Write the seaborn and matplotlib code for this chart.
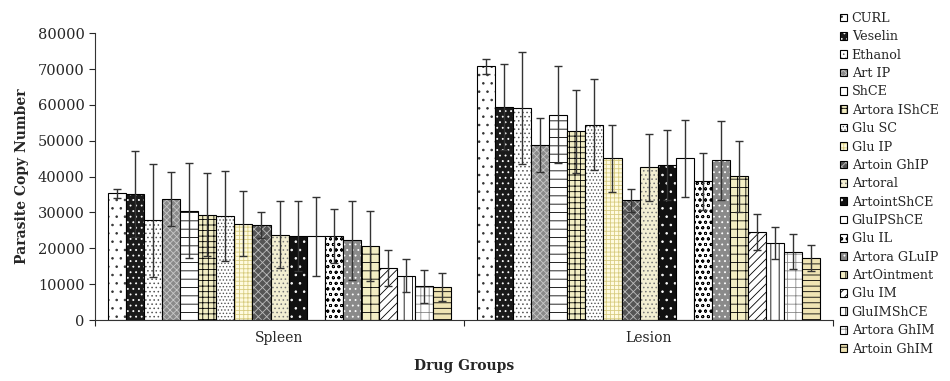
import pandas as pd
import matplotlib.pyplot as plt
import seaborn as sns

# Datos
groups = ["CURL", "Veselin", "Ethanol", "Art IP", "ShCE", "Artora IShCE", "Glu SC",
          "Glu IP", "Artoin GhIP", "Artoral", "ArtointShCE", "GluIPShCE", "Glu IL",
          "Artora GLuIP", "ArtOintment", "Glu IM", "GluIMShCE", "Artora GhIM", "Artoin GhIM"]
tissues = ["Spleen", "Lesion"]
spleen = [35300, 35100, 27800, 33800, 30500, 29400, 29100, 26900, 26500, 23800,
          23400, 23400, 23400, 22300, 20600, 14400, 12400, 9400, 9200]
spleen_err = [1200, 12000, 15700, 7500, 13300, 11600, 12500, 9000, 3500, 9400,
              9800, 11000, 7500, 11000, 9700, 5000, 4500, 4600, 3900]
lesion = [70700, 59400, 59100, 48700, 57300, 52600, 54500, 45100, 33400, 42600,
          43200, 45100, 38700, 44500, 40100, 24500, 21500, 19100, 17200]
lesion_err = [2000, 12000, 15600, 7500, 13500, 11600, 12700, 9300, 3200, 9400,
              9800, 10800, 7900, 11100, 9900, 5000, 4500, 5000, 3600]

# (relleno, trama, color de trama)
styles = [
    ("white", "..", "#333333"),
    ("#1a1a1a", "...", "white"),
    ("white", "....", "#555555"),
    ("#8a8a8a", "xxxxx", "#c8c8c8"),
    ("white", "--", "black"),
    ("#f3eec4", "+++", "black"),
    ("white", ".....", "#555555"),
    ("#fffbe0", "++++", "#d8cc80"),
    ("#555555", "xxxx", "#bdbdbd"),
    ("#f3efd2", "....", "#777777"),
    ("#111111", "..", "white"),
    ("white", "", "black"),
    ("white", "ooo", "black"),
    ("#8a8a8a", "...", "white"),
    ("#f3eec4", "++", "black"),
    ("white", "////", "black"),
    ("white", "||", "black"),
    ("white", "++", "#888888"),
    ("#efe4b4", "---", "black"),
]

rows = []
for g, s, l in zip(groups, spleen, lesion):
    rows.append({"group": g, "tissue": "Spleen", "value": s})
    rows.append({"group": g, "tissue": "Lesion", "value": l})
df = pd.DataFrame(rows)
errs = {"Spleen": dict(zip(groups, spleen_err)), "Lesion": dict(zip(groups, lesion_err))}

sns.set_style("ticks")
plt.rcParams["font.family"] = ["DejaVu Serif"]
plt.rcParams["hatch.linewidth"] = 0.6

fig = plt.figure(figsize=(9.5, 3.81), dpi=100)
ax = fig.add_axes([0.1, 0.16, 0.777, 0.753])

sns.barplot(data=df, x="tissue", y="value", hue="group", order=tissues,
            hue_order=groups, width=0.93, errorbar=None, edgecolor="black",
            linewidth=0.8, ax=ax, legend=False)

handles = []
for g, cont, (fc, hatch, hc) in zip(groups, ax.containers, styles):
    for t, p in zip(tissues, cont.patches):
        p.set_facecolor(fc)
        p.set_edgecolor("black")
        p.set_hatch(hatch)
        p._hatch_color = plt.matplotlib.colors.to_rgba(hc)
        xc = p.get_x() + p.get_width() / 2
        ax.errorbar(xc, p.get_height(), yerr=errs[t][g], color="#333333",
                    elinewidth=1, capsize=3, capthick=1, zorder=5)
    handles.append(cont.patches[0])

ax.set_ylim(0, 80000)
ax.set_xlim(-0.5, 1.5)
ax.set_yticks(range(0, 80001, 10000))
ax.tick_params(axis="y", labelsize=10.5, length=4, direction="out", width=0.8)
ax.tick_params(axis="x", which="major", labelsize=10, length=0, pad=8)
ax.set_xticks([-0.5, 0.5, 1.5], minor=True)
ax.tick_params(axis="x", which="minor", length=4, width=0.8)
sns.despine(ax=ax)
for sp in ["left", "bottom"]:
    ax.spines[sp].set_linewidth(0.8)
    ax.spines[sp].set_color("#333333")

ax.set_ylabel("Parasite Copy Number", fontsize=10, fontweight="bold", labelpad=6)
ax.set_xlabel("Drug Groups", fontsize=10, fontweight="bold", labelpad=10)

fig.legend(handles, groups, loc="upper left", bbox_to_anchor=(0.879, 0.982),
           frameon=False, fontsize=9.2, handlelength=0.55, handleheight=0.55,
           handletextpad=0.35, labelspacing=0.42, borderaxespad=0)

plt.savefig("out.png", dpi=100)
plt.close()
